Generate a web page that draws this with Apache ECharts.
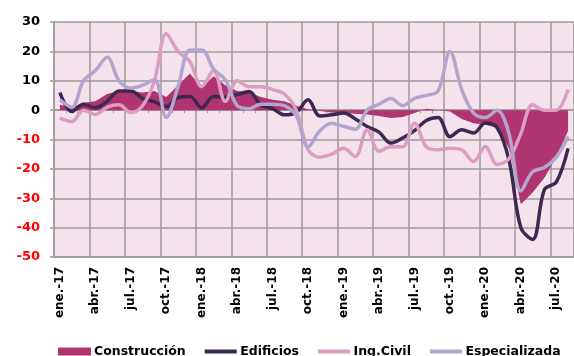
<!DOCTYPE html>
<html>
<head>
<meta charset="utf-8">
<script src="https://cdn.jsdelivr.net/npm/echarts@6/dist/echarts.min.js"></script>
<style>
  html, body { margin: 0; padding: 0; background: #ffffff; }
  #chart { width: 574px; height: 356px; }
</style>
</head>
<body>
<div id="chart"></div>
<script>
// Monthly periods, ene.-17 to ago.-20
const months = [
  'ene.-17','feb.-17','mar.-17','abr.-17','may.-17','jun.-17','jul.-17','ago.-17','sep.-17','oct.-17','nov.-17','dic.-17',
  'ene.-18','feb.-18','mar.-18','abr.-18','may.-18','jun.-18','jul.-18','ago.-18','sep.-18','oct.-18','nov.-18','dic.-18',
  'ene.-19','feb.-19','mar.-19','abr.-19','may.-19','jun.-19','jul.-19','ago.-19','sep.-19','oct.-19','nov.-19','dic.-19',
  'ene.-20','feb.-20','mar.-20','abr.-20','may.-20','jun.-20','jul.-20','ago.-20'
];

// Annual variation (%) by sector
const construccion = [
  1.8, 1.0, 2.5, 3.0, 5.5, 6.5, 6.5, 6.0, 6.5, 4.5, 8.5, 12.5,
  7.5, 11.5, 8.5, 6.5, 6.0, 4.5, 3.5, 3.0, 1.5, 0.3, -0.3, -0.8,
  -1.0, -1.2, -1.5, -2.0, -2.7, -2.3, -1.0, 0.5, 0.0, -0.5, -3.0, -4.5,
  -5.0, -6.0, -13.0, -32.0, -28.0, -23.0, -16.0, -7.0
];
const edificios = [
  6.0, -0.5, 2.0, 0.8, 3.0, 6.5, 6.5, 4.0, 2.8, 1.2, 4.3, 4.6,
  0.8, 4.6, 4.4, 5.3, 6.3, 1.8, 0.5, -1.6, -0.8, 3.5, -2.0, -1.6,
  -1.0, -3.0, -5.6, -7.5, -11.2, -9.5, -7.0, -3.5, -2.5, -9.0, -6.7, -7.8,
  -4.4, -6.0, -17.0, -40.0, -44.0, -27.0, -24.5, -13.0
];
const ingCivil = [
  -2.7, -3.9, 0.0, -1.5, 1.0, 1.8, -0.8, 1.5, 10.0, 26.0, 20.0, 16.5,
  8.0, 13.5, 3.0, 10.0, 8.0, 8.0, 7.0, 5.5, 0.0, -13.5, -16.0, -15.0,
  -13.0, -15.8, -6.7, -14.0, -12.5, -12.5, -4.5, -12.5, -13.5, -13.0, -13.5, -17.5,
  -12.4, -18.5, -16.5, -8.0, 1.8, 0.0, 0.0, 7.0
];
const especializada = [
  3.5, 1.0, 10.0, 13.5, 18.0, 10.0, 7.5, 8.5, 10.3, -2.5, 8.0, 20.5,
  20.5, 14.0, 10.3, 1.5, 0.5, 2.0, 2.0, 1.5, -2.0, -12.5, -7.0, -4.5,
  -5.5, -6.5, 0.0, 2.0, 4.0, 1.5, 4.0, 5.0, 6.5, 20.0, 7.0, -1.0,
  -2.5, 0.0, -8.0, -27.5, -21.0, -19.5, -16.0, -9.0
];

const seriesNames = ['Construcción', 'Edificios', 'Ing.Civil', 'Especializada'];
const seriesColors = ['#b0346f', '#3d2852', '#dc9ec0', '#b3a5cd'];
const yMin = -50, yMax = 30, yStep = 10;

const FONT = 'DejaVu Sans';
const GRID_COLOR = '#9c9a9b';
// legend keys: a filled block for the area, a thin bar for the lines
const BLOCK_ICON = 'rect';
const BAR_ICON = 'path://M0,0 L0.001,0 L0.001,8 L0,8 Z M0,2 L32,2 L32,6 L0,6 Z';

const chart = echarts.init(document.getElementById('chart'), null, { renderer: 'canvas' });

const lineSeries = (i, data) => ({
  name: seriesNames[i], type: 'line', data, xAxisIndex: 0, yAxisIndex: 0,
  smooth: 0.35, symbol: 'none',
  lineStyle: { color: seriesColors[i], width: 3.5 },
  itemStyle: { color: seriesColors[i] },
  emphasis: { disabled: true }
});

chart.setOption({
  animation: false,
  backgroundColor: '#ffffff',
  grid: {
    left: 54, top: 22, width: 525, height: 235,
    show: true, backgroundColor: '#f4e2ec', borderWidth: 0
  },
  legend: {
    data: seriesNames.map((name, i) => ({
      name, icon: i === 0 ? BLOCK_ICON : BAR_ICON,
      itemStyle: { color: seriesColors[i], borderWidth: 0 }
    })),
    left: 53, top: 340, width: 530,
    itemWidth: 33, itemHeight: 8, itemGap: 19,
    textStyle: { fontFamily: FONT, fontWeight: 'bold', fontSize: 12.5, color: '#000', padding: [0, 0, 0, -2] }
  },
  xAxis: [
    {
      type: 'category', data: months, boundaryGap: true,
      axisLine: { onZero: false, lineStyle: { color: GRID_COLOR, width: 1.5 } },
      axisTick: { show: false },
      axisLabel: {
        interval: 2, rotate: 90, margin: 10,
        fontFamily: FONT, fontWeight: 'bold', fontSize: 12, color: '#000'
      },
      splitLine: { show: true, interval: 2, lineStyle: { color: GRID_COLOR, width: 1.5 } }
    },
    {
      // axis crossing at zero with monthly tick marks
      type: 'category', data: months, boundaryGap: true, position: 'bottom',
      axisLine: { show: true, onZero: true, lineStyle: { color: GRID_COLOR, width: 1.5 } },
      axisTick: { show: true, interval: 0, length: 3, lineStyle: { color: GRID_COLOR, width: 1 } },
      axisLabel: { show: false },
      splitLine: { show: false }
    }
  ],
  yAxis: {
    type: 'value', min: yMin, max: yMax, interval: yStep,
    axisLine: { show: true, lineStyle: { color: GRID_COLOR, width: 1.5 } },
    axisTick: { show: true, length: 4, lineStyle: { color: GRID_COLOR, width: 1.5 } },
    axisLabel: {
      margin: 14, fontFamily: FONT, fontWeight: 'bold', fontSize: 13,
      color: (v) => (Number(v) < 0 ? '#ff0000' : '#000000')
    },
    splitLine: { show: true, lineStyle: { color: GRID_COLOR, width: 1.5 } }
  },
  series: [
    {
      name: seriesNames[0], type: 'line', data: construccion,
      xAxisIndex: 0, yAxisIndex: 0, smooth: false, symbol: 'none',
      lineStyle: { width: 0, color: seriesColors[0] },
      itemStyle: { color: seriesColors[0] },
      areaStyle: { color: seriesColors[0], opacity: 1, origin: 0 },
      emphasis: { disabled: true }
    },
    lineSeries(1, edificios),
    lineSeries(2, ingCivil),
    lineSeries(3, especializada)
  ]
});
</script>
</body>
</html>
